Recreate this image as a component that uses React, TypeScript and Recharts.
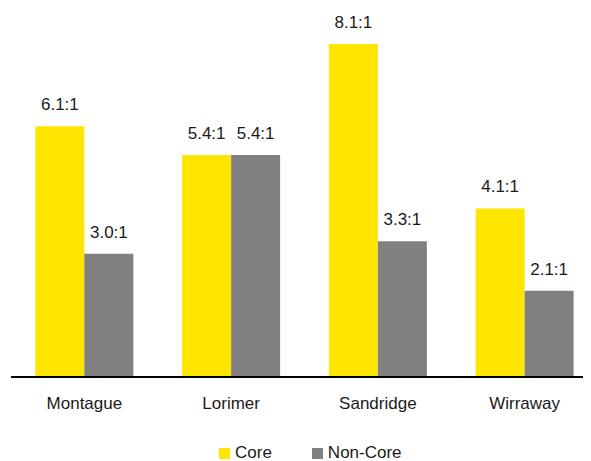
import React from "react";
import { BarChart, Bar, XAxis, YAxis, LabelList, Legend } from "recharts";

const categories = ["Montague", "Lorimer", "Sandridge", "Wirraway"];
const coreValues = [6.1, 5.4, 8.1, 4.1];
const nonCoreValues = [3.0, 5.4, 3.3, 2.1];
const seriesNames = ["Core", "Non-Core"];
const seriesColors = ["#FFE600", "#808080"];

const data = categories.map((name, i) => ({
  name,
  core: coreValues[i],
  nonCore: nonCoreValues[i],
}));

const FONT = '"Liberation Sans", Arial, sans-serif';
const fmt = (v: number) => `${Number(v).toFixed(1)}:1`;

const renderLegend = () => (
  <div
    style={{
      display: "flex",
      alignItems: "center",
      paddingLeft: 208,
      paddingTop: 4,
      height: 16,
      fontFamily: FONT,
      fontSize: 17,
      color: "#1a1a1a",
    }}
  >
    {seriesNames.map((n, i) => (
      <div
        key={n}
        style={{ display: "flex", alignItems: "center", marginRight: i === 0 ? 40 : 0 }}
      >
        <span
          style={{
            display: "inline-block",
            width: 11,
            height: 11,
            background: seriesColors[i],
            marginRight: 5,
          }}
        />
        <span>{n}</span>
      </div>
    ))}
  </div>
);

export default function App() {
  return (
    <div style={{ marginTop: -8, width: 583, height: 461, overflow: "hidden" }}>
      <BarChart
        width={600}
        height={461}
        data={data}
        margin={{ top: 7, right: 10, bottom: 0, left: 3 }}
        barCategoryGap="16.6%"
        barGap={0}
      >
        <XAxis
          dataKey="name"
          height={64}
          axisLine={{ stroke: "#000", strokeWidth: 2 }}
          tickLine={false}
          tickSize={0}
          tickMargin={20}
          tick={{ fill: "#1a1a1a", fontSize: 17, fontFamily: FONT }}
        />
        <YAxis hide domain={[0, 9]} />
        <Legend verticalAlign="bottom" height={20} content={renderLegend} />
        <Bar dataKey="core" name={seriesNames[0]} fill={seriesColors[0]} isAnimationActive={false}>
          <LabelList
            dataKey="core"
            position="top"
            offset={16}
            formatter={fmt}
            style={{ fill: "#1a1a1a", fontSize: 17, fontFamily: FONT }}
          />
        </Bar>
        <Bar dataKey="nonCore" name={seriesNames[1]} fill={seriesColors[1]} isAnimationActive={false}>
          <LabelList
            dataKey="nonCore"
            position="top"
            offset={16}
            formatter={fmt}
            style={{ fill: "#1a1a1a", fontSize: 17, fontFamily: FONT }}
          />
        </Bar>
      </BarChart>
    </div>
  );
}
